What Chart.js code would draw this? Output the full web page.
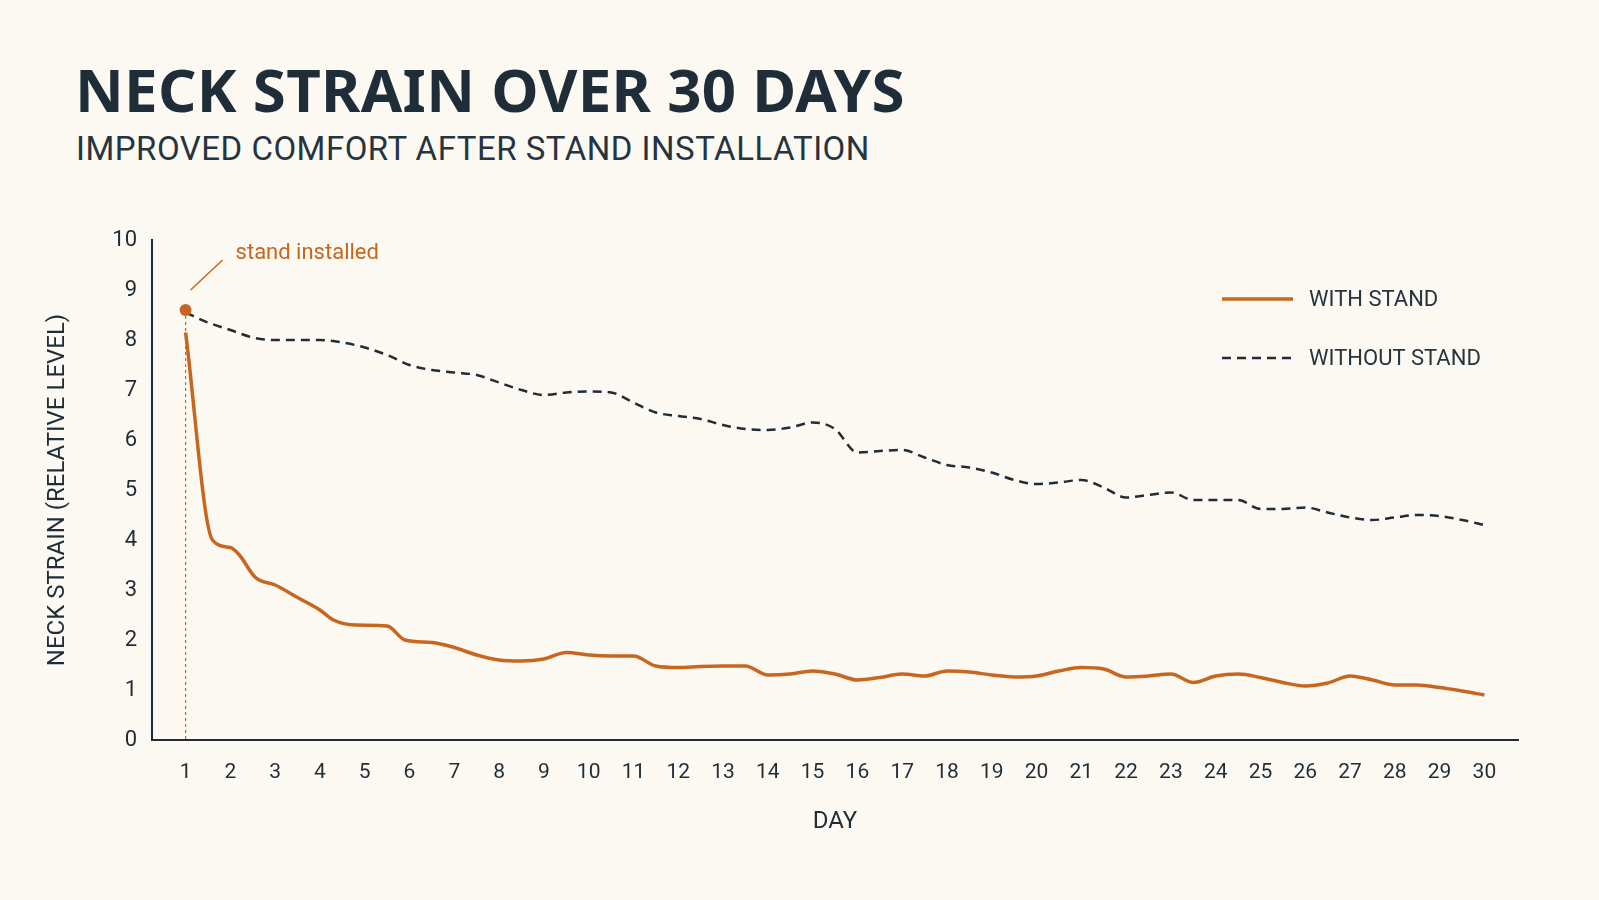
<!DOCTYPE html>
<html><head><meta charset="utf-8">
<script src="https://cdn.jsdelivr.net/npm/chart.js@4/dist/chart.umd.min.js"></script>
<style>
html,body{margin:0;background:#fcf9f3;width:1599px;height:900px;overflow:hidden;font-family:Roboto,"Noto Sans",sans-serif}
#t{position:absolute;left:75px;top:48px;font-size:60px;font-weight:700;color:#1f2d38;letter-spacing:0.3px;font-family:"Noto Sans",Roboto,sans-serif}
#s{position:absolute;left:76px;top:129px;font-size:33px;color:#26343f;letter-spacing:0.5px}
canvas{position:absolute;left:0;top:0}
</style></head><body>
<div id="t">NECK STRAIN OVER 30 DAYS</div>
<div id="s">IMPROVED COMFORT AFTER STAND INSTALLATION</div>
<canvas id="c" width="1599" height="900"></canvas>
<script>
const withX=[1,1.6,2,2.2,2.56,3,3.5,4,4.3,4.8,5.5,5.9,6.5,7,7.5,8,8.5,9,9.5,10,10.5,11,11.5,12,12.5,13,13.5,14,14.5,15,15.5,16,16.5,17,17.5,18,18.5,19,19.5,20,20.5,21,21.5,22,22.5,23,23.5,24,24.5,25,25.5,26,26.5,27,27.5,28,28.5,29,29.5,30];
const withY=[8.15,4.0,3.85,3.7,3.25,3.1,2.85,2.6,2.4,2.3,2.28,2.0,1.95,1.85,1.7,1.6,1.58,1.62,1.75,1.7,1.68,1.68,1.48,1.45,1.47,1.48,1.48,1.3,1.32,1.38,1.32,1.2,1.25,1.32,1.28,1.38,1.36,1.3,1.26,1.28,1.38,1.45,1.42,1.26,1.28,1.32,1.15,1.28,1.32,1.25,1.15,1.08,1.14,1.28,1.2,1.1,1.1,1.05,0.98,0.9];
const woX=[1,1.5,2,2.5,3,3.5,4,4.5,5,5.5,6,6.5,7,7.5,8,8.5,9,9.5,10,10.5,11,11.5,12,12.5,13,13.5,14,14.5,15,15.5,16,16.5,17,17.5,18,18.5,19,19.5,20,20.5,21,21.5,22,22.5,23,23.5,24,24.5,25,25.5,26,26.5,27,27.5,28,28.5,29,29.5,30];
const woY=[8.55,8.35,8.2,8.05,8.0,8.0,8.0,7.95,7.85,7.7,7.5,7.4,7.35,7.3,7.15,7.0,6.9,6.95,6.97,6.95,6.75,6.55,6.48,6.42,6.3,6.22,6.2,6.25,6.35,6.22,5.75,5.78,5.8,5.65,5.5,5.45,5.35,5.2,5.12,5.15,5.2,5.05,4.85,4.9,4.95,4.8,4.8,4.8,4.62,4.62,4.65,4.55,4.45,4.4,4.45,4.5,4.48,4.4,4.3];
const days=Array.from({length:30},(_,i)=>i+1);
const marker={x:1,y:8.6};
const ORANGE='#c8661f', DARK='#1f2d38';
const deco={id:'deco',afterDatasetsDraw(ch){
 const c=ch.ctx,x=ch.scales.x,y=ch.scales.y;
 const px=x.getPixelForValue(marker.x),py=y.getPixelForValue(marker.y);
 c.save();
 c.strokeStyle=ORANGE;c.lineWidth=1.2;c.setLineDash([3,3]);
 c.beginPath();c.moveTo(px,py);c.lineTo(px,y.getPixelForValue(0));c.stroke();
 c.setLineDash([]);c.fillStyle=ORANGE;c.beginPath();c.arc(px,py,6,0,Math.PI*2);c.fill();
 c.lineWidth=1.5;c.beginPath();c.moveTo(px+5,py-20);c.lineTo(px+37,py-50);c.stroke();
 c.font='22px Roboto';c.textBaseline='middle';c.fillText('stand installed',px+50,py-57);
 c.lineWidth=3.5;c.beginPath();c.moveTo(1222,299);c.lineTo(1293,299);c.stroke();
 c.strokeStyle=DARK;c.lineWidth=2.5;c.setLineDash([9,6]);c.beginPath();c.moveTo(1222,358);c.lineTo(1293,358);c.stroke();
 c.setLineDash([]);c.fillStyle='#26343f';c.font='22px Roboto';
 c.fillText('WITH STAND',1309,300);c.fillText('WITHOUT STAND',1309,359);
 c.restore();}};
new Chart(document.getElementById('c'),{type:'line',
 data:{datasets:[
  {data:withX.map((v,i)=>({x:v,y:withY[i]})),borderColor:ORANGE,borderWidth:3.5,pointRadius:0,tension:0.35,cubicInterpolationMode:'monotone'},
  {data:woX.map((v,i)=>({x:v,y:woY[i]})),borderColor:DARK,borderWidth:2.5,borderDash:[9,6],pointRadius:0,tension:0.35,cubicInterpolationMode:'monotone'}]},
 options:{responsive:false,animation:false,events:[],
  layout:{padding:{left:40,top:240,right:81,bottom:60}},
  plugins:{legend:{display:false},tooltip:{enabled:false}},
  scales:{
   x:{type:'linear',min:0.25,max:30.75,afterFit(s){s.height=100;},
      afterBuildTicks(s){s.ticks=days.map(v=>({value:v}));},
      grid:{display:false,drawTicks:false},border:{color:DARK,width:2},
      ticks:{color:DARK,font:{size:21,family:'Roboto'},padding:20,maxRotation:0,autoSkip:false},
      title:{display:true,text:'DAY',color:DARK,font:{size:24,family:'Roboto'},padding:{top:18}}},
   y:{min:0,max:10,afterFit(s){s.width=112;},
      grid:{display:false,drawTicks:true,tickLength:7,tickColor:DARK},border:{color:DARK,width:2},
      ticks:{stepSize:1,color:DARK,font:{size:22,family:'Roboto'},padding:8},
      title:{display:true,text:'NECK STRAIN (RELATIVE LEVEL)',color:DARK,font:{size:24,family:'Roboto'},padding:{bottom:14}}}}},
 plugins:[deco]});
</script></body></html>
